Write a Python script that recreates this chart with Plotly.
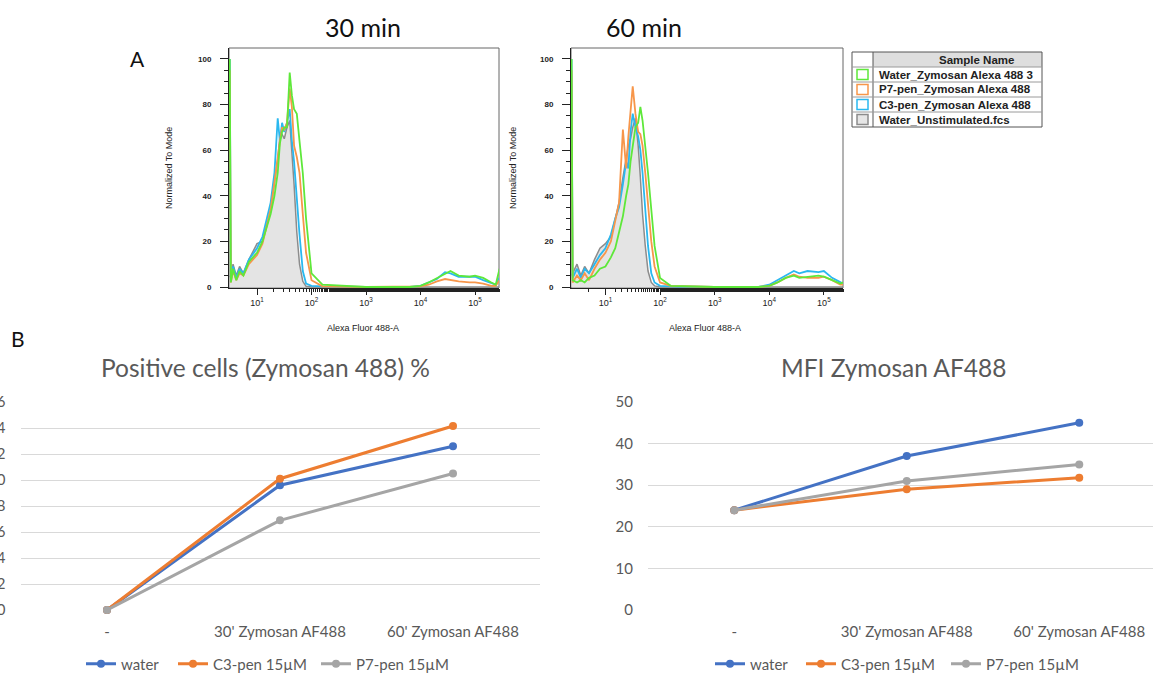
import plotly.graph_objects as go

W, H = 1153, 673


def fx(x):
    return x / W


def fy(y):
    return 1 - y / H


# ---------------- Panel A : flow histograms (log10 intensity, % of mode) ----------------
bins30_log10 = [0.50, 0.52, 0.56, 0.62, 0.68, 0.75, 0.85,
                1.00, 1.10, 1.18, 1.25, 1.32, 1.38, 1.42, 1.46, 1.50,
                1.55, 1.60, 1.64, 1.68, 1.73, 1.78, 1.84, 1.90,
                2.00, 2.20, 3.00, 3.80,
                4.00, 4.15, 4.30, 4.45, 4.55, 4.70, 4.90, 5.00,
                5.15, 5.30, 5.38, 5.45]
green30 = [100, 2, 8, 3, 7, 5, 11,
           15, 20, 27, 32, 40, 50, 63, 68, 70,
           70, 94, 84, 78, 76, 64, 50, 30,
           6, 1, 0, 0,
           0.5, 2, 4, 6, 7, 5, 4.5, 5,
           4, 2, 1, 8]
orange30 = [95, 2, 7, 3, 6, 5, 10,
            14, 19, 27, 34, 46, 58, 64, 70, 69,
            72, 87, 79, 62, 57, 50, 32, 15,
            3, 0.3, 0, 0,
            0.3, 1, 2.5, 3.5, 3, 2.5, 2, 2,
            1.5, 0.5, 0.5, 3]
cyan30 = [100, 3, 9, 4, 8, 6, 12,
          17, 22, 30, 37, 50, 74, 64, 72, 68,
          72, 78, 64, 55, 38, 23, 7, 1.5,
          0.5, 0.3, 0, 0,
          0.5, 2, 3.5, 6.5, 6, 4.5, 4.5, 4.5,
          3, 1.5, 1, 4]
gray30 = [5, 4, 10, 5, 9, 6, 12,
          19, 20, 27, 34, 46, 56, 66, 67, 65,
          70, 73, 60, 45, 24, 10, 2.5, 0.3,
          0, 0, 0, 0,
          0, 0, 0, 0, 0, 0, 0, 0,
          0, 0, 0, 0]

bins60_log10 = [0.38, 0.40, 0.48, 0.55, 0.62, 0.70, 0.80, 0.90,
                1.00, 1.10, 1.18, 1.25, 1.32, 1.38, 1.42, 1.46, 1.50,
                1.55, 1.60, 1.64, 1.68, 1.73, 1.78, 1.84, 1.90,
                2.00, 2.20, 3.00, 3.80,
                4.00, 4.15, 4.30, 4.45, 4.55, 4.70, 4.90, 5.00,
                5.15, 5.30, 5.35]
green60 = [100, 3, 2, 3, 2, 4, 5, 8,
           9, 13, 17, 24, 31, 40, 45, 55, 62,
           70, 72, 79, 73, 62, 50, 34, 18,
           4, 0.5, 0, 0,
           0.5, 2, 4, 5, 4, 4.5, 5, 4.5,
           3, 1.5, 2]
orange60 = [95, 2, 5, 3, 6, 3, 8, 12,
            15, 20, 29, 37, 69, 52, 66, 78, 88,
            76, 68, 67, 62, 50, 35, 20, 9,
            2, 0.5, 0, 0,
            0.5, 2, 4, 5.5, 4.5, 4, 4, 4.5,
            3, 1, 1]
cyan60 = [100, 4, 8, 4, 8, 6, 10, 14,
          17, 23, 30, 35, 45, 55, 52, 68, 76,
          70, 66, 60, 50, 35, 18, 6, 2,
          0.5, 0.3, 0, 0,
          1, 3, 5, 7, 6, 7, 6.5, 7,
          4, 2, 1.5]
gray60 = [5, 6, 10, 5, 9, 6, 12, 17,
          19, 22, 30, 37, 48, 57, 62, 65, 70,
          74, 62, 48, 32, 18, 7, 2, 0.5,
          0, 0, 0, 0,
          0, 0, 0, 0, 0, 0, 0, 0,
          0, 0, 0]

sample_names = ["Water_Zymosan Alexa 488 3", "P7-pen_Zymosan Alexa 488",
                "C3-pen_Zymosan Alexa 488", "Water_Unstimulated.fcs"]
hist_colors = ["#5ee83a", "#f7964a", "#2ab8ef", "#9a9a9a"]
decade_ticks = [10, 100, 1000, 10000, 100000]
decade_labels = ["10<sup>1</sup>", "10<sup>2</sup>", "10<sup>3</sup>", "10<sup>4</sup>", "10<sup>5</sup>"]

# ---------------- Panel B : line charts ----------------
categories = ["-", "30' Zymosan AF488", "60' Zymosan AF488"]
series_names = ["water", "C3-pen 15µM", "P7-pen 15µM"]
series_colors = ["#4472C4", "#ED7D31", "#A5A5A5"]
positive_pct = {
    "water": [0, 9.6, 12.6],
    "C3-pen 15µM": [0, 10.1, 14.15],
    "P7-pen 15µM": [0, 6.9, 10.5],
}
mfi = {
    "water": [24, 37, 45],
    "C3-pen 15µM": [24, 29, 31.8],
    "P7-pen 15µM": [24, 31, 35],
}

fig = go.Figure()

# histogram traces
hist_sets = [
    ("x", "y", bins30_log10, [green30, orange30, cyan30, gray30]),
    ("x2", "y2", bins60_log10, [green60, orange60, cyan60, gray60]),
]
for xa, ya, bins, ys in hist_sets:
    xs = [10 ** b for b in bins]
    fig.add_trace(go.Scatter(x=xs, y=ys[3], xaxis=xa, yaxis=ya, mode="lines",
                             line=dict(color="#8c8c8c", width=1.5),
                             fill="tozeroy", fillcolor="rgba(225,225,225,0.9)",
                             showlegend=False, hoverinfo="skip"))
    for idx in [2, 1, 0]:
        fig.add_trace(go.Scatter(x=xs, y=ys[idx], xaxis=xa, yaxis=ya, mode="lines",
                                 line=dict(color=hist_colors[idx], width=1.8),
                                 showlegend=False, hoverinfo="skip"))

# line charts: one legend box per entry to match the Excel spacing
xpos = list(range(len(categories)))
left_legends = ["legend", "legend2", "legend3"]
right_legends = ["legend4", "legend5", "legend6"]
for name, color, lg in zip(series_names, series_colors, left_legends):
    fig.add_trace(go.Scatter(x=xpos, y=positive_pct[name], xaxis="x3", yaxis="y3",
                             mode="lines+markers", name=name, legend=lg,
                             line=dict(color=color, width=3),
                             marker=dict(color=color, size=8), cliponaxis=False))
for name, color, lg in zip(series_names, series_colors, right_legends):
    fig.add_trace(go.Scatter(x=xpos, y=mfi[name], xaxis="x4", yaxis="y4",
                             mode="lines+markers", name=name, legend=lg,
                             line=dict(color=color, width=3),
                             marker=dict(color=color, size=8), cliponaxis=False))

flow_font = dict(family="Liberation Sans, Arial, sans-serif", size=8, color="#222222")
xl_font = "Lato, Calibri, sans-serif"


def hist_xaxis(x0, x1, rng, anchor):
    return dict(domain=[fx(x0), fx(x1)], anchor=anchor, type="log", range=rng,
                tickvals=decade_ticks, ticktext=decade_labels, ticks="outside",
                ticklen=6, tickcolor="#222", tickwidth=1,
                minor=dict(ticks="outside", ticklen=3, tickcolor="#222", showgrid=False),
                showgrid=False, showline=True, linecolor="#222", linewidth=1,
                zeroline=False, tickfont=dict(flow_font, size=9), automargin=False,
                fixedrange=True)


def hist_yaxis(anchor):
    return dict(domain=[fy(288), fy(48)], anchor=anchor, range=[-0.44, 104.8],
                tickvals=[0, 20, 40, 60, 80, 100],
                ticks="outside", ticklen=8, tickcolor="#222", tickwidth=1,
                minor=dict(ticks="outside", ticklen=4, dtick=5, tickcolor="#222", showgrid=False),
                showgrid=False, showline=True, linecolor="#222", linewidth=1, zeroline=False,
                ticklabelstandoff=7,
                tickfont=dict(flow_font, size=8, weight="bold"), automargin=False,
                fixedrange=True)


xa1 = hist_xaxis(229, 499, [0.486, 5.44], "y")
ya1 = hist_yaxis("x")
xa2 = hist_xaxis(571, 843, [0.37, 5.35], "y2")
ya2 = hist_yaxis("x2")

xl_tickfont = dict(family=xl_font, size=15, color="#595959")
xa3 = dict(domain=[fx(20.5), fx(539.5)], anchor="y3", range=[-0.5, 2.5],
           tickvals=xpos, ticktext=categories, ticks="outside", ticklen=8,
           tickcolor="rgba(0,0,0,0)", showgrid=False, showline=False, zeroline=False,
           tickfont=xl_tickfont, automargin=False, fixedrange=True)
ya3 = dict(domain=[fy(610), fy(402)], anchor="x3", range=[0, 16], dtick=2,
           showgrid=True, gridcolor="#d9d9d9", gridwidth=1, zeroline=False, showline=False,
           ticks="", ticklabelstandoff=14, tickfont=xl_tickfont, automargin=False,
           fixedrange=True)
xa4 = dict(domain=[fx(648), 1.0], anchor="y4", range=[-0.5, -0.5 + (1153 - 648) / 172.5],
           tickvals=xpos, ticktext=categories, ticks="outside", ticklen=8,
           tickcolor="rgba(0,0,0,0)", showgrid=False, showline=False, zeroline=False,
           tickfont=xl_tickfont, automargin=False, fixedrange=True)
ya4 = dict(domain=[fy(610), fy(402)], anchor="x4", range=[0, 50], dtick=10,
           showgrid=True, gridcolor="#d9d9d9", gridwidth=1, zeroline=False, showline=False,
           ticks="", ticklabelstandoff=14, tickfont=xl_tickfont, automargin=False,
           fixedrange=True)

legend_common = dict(orientation="h", xanchor="left", yanchor="middle",
                     font=dict(family=xl_font, size=15, color="#595959"),
                     bgcolor="rgba(0,0,0,0)", borderwidth=0, itemclick=False,
                     itemdoubleclick=False, tracegroupgap=0)
legend_line_starts = [88, 180, 323, 717, 808, 953]
legend_layout = {}
for i, xs0 in enumerate(legend_line_starts):
    key = "legend" if i == 0 else f"legend{i + 1}"
    legend_layout[key] = dict(legend_common, x=fx(xs0 - 7), y=fy(664))

annotations = []
shapes = []

for text, x, y, size in [("30 min", 363, 27, 25), ("60 min", 644, 27, 25),
                         ("A", 137, 58, 21), ("B", 18, 338, 21)]:
    annotations.append(dict(text=text, x=fx(x), y=fy(y), xref="paper", yref="paper",
                            showarrow=False, xanchor="center", yanchor="middle",
                            font=dict(family=xl_font, size=size, color="#111111")))
for text, x in [("Positive cells (Zymosan 488) %", 265), ("MFI Zymosan AF488", 894)]:
    annotations.append(dict(text=text, x=fx(x), y=fy(368), xref="paper", yref="paper",
                            showarrow=False, xanchor="center", yanchor="middle",
                            font=dict(family=xl_font, size=24.5, color="#595959")))

for cx in [363, 705]:
    annotations.append(dict(text="Alexa Fluor 488-A", x=fx(cx), y=fy(328), xref="paper",
                            yref="paper", showarrow=False, xanchor="center", yanchor="middle",
                            font=dict(flow_font, size=9)))
for cx in [169, 513]:
    annotations.append(dict(text="Normalized To Mode", x=fx(cx), y=fy(168), xref="paper",
                            yref="paper", showarrow=False, textangle=-90,
                            xanchor="center", yanchor="middle", font=dict(flow_font, size=9)))

for xr, yr in [("x", "y"), ("x2", "y2")]:
    shapes.append(dict(type="rect", xref=f"{xr} domain", yref=f"{yr} domain",
                       x0=0, x1=1, y0=0, y1=1, line=dict(color="#666666", width=1),
                       layer="below"))

# sample table legend
tx0, tx1, tdiv = 852, 1042, 873
ty = [52, 67, 82, 97, 112, 127]
shapes.append(dict(type="rect", xref="paper", yref="paper", x0=fx(tdiv), x1=fx(tx1),
                   y0=fy(ty[1]), y1=fy(ty[0]), fillcolor="#dedede", line=dict(width=0)))
shapes.append(dict(type="rect", xref="paper", yref="paper", x0=fx(tx0), x1=fx(tx1),
                   y0=fy(ty[-1]), y1=fy(ty[0]), line=dict(color="#555555", width=1)))
shapes.append(dict(type="line", xref="paper", yref="paper", x0=fx(tdiv), x1=fx(tdiv),
                   y0=fy(ty[-1]), y1=fy(ty[0]), line=dict(color="#555555", width=1)))
for yl in ty[1:-1]:
    shapes.append(dict(type="line", xref="paper", yref="paper", x0=fx(tx0), x1=fx(tx1),
                       y0=fy(yl), y1=fy(yl), line=dict(color="#9a9a9a", width=1)))
annotations.append(dict(text="Sample Name", x=fx(976), y=fy(59.5), xref="paper",
                        yref="paper", showarrow=False, xanchor="center", yanchor="middle",
                        font=dict(family="Liberation Sans, Arial, sans-serif", size=11.5,
                                  color="#222222", weight="bold")))
for i, (nm, col) in enumerate(zip(sample_names, hist_colors)):
    yc = (ty[i + 1] + ty[i + 2]) / 2
    shapes.append(dict(type="rect", xref="paper", yref="paper", x0=fx(857), x1=fx(868),
                       y0=fy(yc + 5), y1=fy(yc - 5),
                       fillcolor="#e6e6e6" if i == 3 else "white",
                       line=dict(color=col if i < 3 else "#8c8c8c", width=1.5)))
    annotations.append(dict(text=nm, x=fx(877), y=fy(yc), xref="paper", yref="paper",
                            showarrow=False, xanchor="left", yanchor="middle",
                            font=dict(family="Liberation Sans, Arial, sans-serif", size=11.5,
                                      color="#222222", weight="bold")))

fig.update_layout(
    width=W, height=H, margin=dict(l=0, r=0, t=0, b=0, autoexpand=False),
    paper_bgcolor="white", plot_bgcolor="white", template="none",
    xaxis=xa1, yaxis=ya1, xaxis2=xa2, yaxis2=ya2,
    xaxis3=xa3, yaxis3=ya3, xaxis4=xa4, yaxis4=ya4,
    annotations=annotations, shapes=shapes, showlegend=True,
    **legend_layout,
)

fig.write_html("out.html")
